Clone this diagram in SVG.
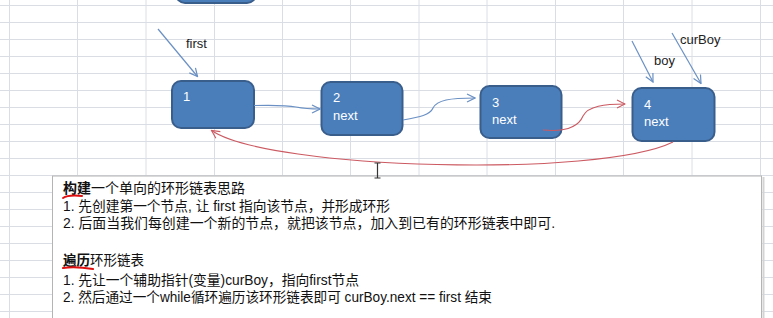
<svg xmlns="http://www.w3.org/2000/svg" width="773" height="318" viewBox="0 0 773 318">
  <defs>
    <style>
      .grid line { stroke: #dadee4; stroke-width: 1; }
      .node rect { fill: #4a7ebb; stroke: #3a5e8c; stroke-width: 2; }
      .node text { fill: #ffffff; font-family: "Liberation Sans", "Open Sans", sans-serif; font-size: 13px; }
      .label { fill: #222222; font-family: "Liberation Sans", "Open Sans", sans-serif; font-size: 13px; }
      .blue { fill: none; stroke: #6a90c4; stroke-width: 1.2; marker-end: url(#headBlue); }
      .red { fill: none; stroke: #cc5a62; stroke-width: 1.1; marker-end: url(#headRed); }
      .note { fill: #111111; font-family: "Liberation Sans", "Noto Sans CJK SC", sans-serif; font-size: 14px; }
      .note .b { font-weight: bold; }
      .mark { fill: none; stroke: #e01010; stroke-width: 2; stroke-linecap: round; }
    </style>
    <marker id="headBlue" viewBox="0 0 10 10" refX="9" refY="5" markerWidth="10" markerHeight="10" markerUnits="userSpaceOnUse" orient="auto">
      <path d="M1,1 L9,5 L1,9" fill="none" stroke="#6a90c4" stroke-width="1.2"/>
    </marker>
    <marker id="headRed" viewBox="0 0 10 10" refX="9" refY="5" markerWidth="10" markerHeight="10" markerUnits="userSpaceOnUse" orient="auto">
      <path d="M1,1 L9,5 L1,9" fill="none" stroke="#cc5a62" stroke-width="1.1"/>
    </marker>
  </defs>

  <rect width="773" height="318" fill="#ffffff"/>

  <!-- spreadsheet grid -->
  <g class="grid">
    <line x1="9.5" y1="0" x2="9.5" y2="318"/>
    <line x1="77.5" y1="0" x2="77.5" y2="318"/>
    <line x1="146" y1="0" x2="146" y2="318"/>
    <line x1="214.5" y1="0" x2="214.5" y2="318"/>
    <line x1="282.5" y1="0" x2="282.5" y2="318"/>
    <line x1="350.5" y1="0" x2="350.5" y2="318"/>
    <line x1="419" y1="0" x2="419" y2="318"/>
    <line x1="487" y1="0" x2="487" y2="318"/>
    <line x1="555.5" y1="0" x2="555.5" y2="318"/>
    <line x1="623.5" y1="0" x2="623.5" y2="318"/>
    <line x1="692" y1="0" x2="692" y2="318"/>
    <line x1="760.5" y1="0" x2="760.5" y2="318"/>
    <line x1="0" y1="5.5" x2="773" y2="5.5"/>
    <line x1="0" y1="22.5" x2="773" y2="22.5"/>
    <line x1="0" y1="39.5" x2="773" y2="39.5"/>
    <line x1="0" y1="56.5" x2="773" y2="56.5"/>
    <line x1="0" y1="73.5" x2="773" y2="73.5"/>
    <line x1="0" y1="90.5" x2="773" y2="90.5"/>
    <line x1="0" y1="107.5" x2="773" y2="107.5"/>
    <line x1="0" y1="124.5" x2="773" y2="124.5"/>
    <line x1="0" y1="141.5" x2="773" y2="141.5"/>
    <line x1="0" y1="158.5" x2="773" y2="158.5"/>
    <line x1="0" y1="175.5" x2="773" y2="175.5"/>
    <line x1="0" y1="192.5" x2="773" y2="192.5"/>
    <line x1="0" y1="209.5" x2="773" y2="209.5"/>
    <line x1="0" y1="226.5" x2="773" y2="226.5"/>
    <line x1="0" y1="243.5" x2="773" y2="243.5"/>
    <line x1="0" y1="260.5" x2="773" y2="260.5"/>
    <line x1="0" y1="277.5" x2="773" y2="277.5"/>
    <line x1="0" y1="294.5" x2="773" y2="294.5"/>
    <line x1="0" y1="311.5" x2="773" y2="311.5"/>
  </g>

  <!-- nodes -->
  <g id="node-top" class="node">
    <rect x="176" y="-50" width="80" height="53" rx="9"/>
  </g>
  <g id="node-1" class="node">
    <rect x="172" y="81" width="82" height="47" rx="9"/>
    <text x="183" y="101">1</text>
  </g>
  <g id="node-2" class="node">
    <rect x="321.5" y="82" width="81" height="53" rx="9"/>
    <text x="333" y="102">2</text>
    <text x="333" y="120">next</text>
  </g>
  <g id="node-3" class="node">
    <rect x="480.5" y="86" width="81" height="52" rx="9"/>
    <text x="492" y="107">3</text>
    <text x="492" y="124">next</text>
  </g>
  <g id="node-4" class="node">
    <rect x="632.5" y="88" width="82" height="53" rx="9"/>
    <text x="644" y="109">4</text>
    <text x="644" y="126">next</text>
  </g>

  <!-- pointer labels -->
  <g id="labels">
    <text class="label" x="186" y="48">first</text>
    <text class="label" x="654" y="65">boy</text>
    <text class="label" x="680" y="44">curBoy</text>
  </g>

  <!-- connectors -->
  <g id="connectors">
    <path class="blue" d="M158,29 L197.5,76.5"/>
    <path class="blue" d="M632,41 L653,82"/>
    <path class="blue" d="M672,33 L701,83.5"/>
    <path class="blue" d="M254,105.5 C275,105 286,105 296,107 C306,109 312,109 320,109"/>
    <path class="blue" d="M403,120 C420,117 430,115 433,108 C437,100 450,98 475,98"/>
    <path class="red" d="M543,130 C565,132 578,128 583,116 C588,106 605,104 625,104"/>
    <path class="red" d="M673,142 C600,178 270,170 211.5,130.5"/>
  </g>

  <!-- notes box -->
  <g id="notes">
    <rect x="52.5" y="176" width="709" height="150" fill="#ffffff" stroke="#b4b4b4" stroke-width="1"/>
    <line x1="763.5" y1="177" x2="763.5" y2="318" stroke="#d4d4d4" stroke-width="2"/>
    <text class="note" x="63" y="192.5" textLength="182" lengthAdjust="spacingAndGlyphs"><tspan class="b">构建</tspan>一个单向的环形链表思路</text>
    <text class="note" x="63" y="210.5" textLength="327" lengthAdjust="spacingAndGlyphs">1. 先创建第一个节点, 让 first 指向该节点，并形成环形</text>
    <text class="note" x="63" y="228" textLength="492" lengthAdjust="spacingAndGlyphs">2. 后面当我们每创建一个新的节点，就把该节点，加入到已有的环形链表中即可.</text>
    <text class="note" x="63" y="264.5" textLength="81" lengthAdjust="spacingAndGlyphs"><tspan class="b">遍历</tspan>环形链表</text>
    <text class="note" x="63" y="285" textLength="296" lengthAdjust="spacingAndGlyphs">1. 先让一个辅助指针(变量)curBoy，指向first节点</text>
    <text class="note" x="63" y="302" textLength="429" lengthAdjust="spacingAndGlyphs">2. 然后通过一个while循环遍历该环形链表即可 curBoy.next == first 结束</text>
    <path class="mark" d="M63,198 C66,196 72,195 82,196"/>
    <path class="mark" d="M63,268 C70,267 80,267 93,269"/>
  </g>

  <!-- text cursor -->
  <path d="M374.5,163 H380.5 M377.5,163 V178 M374.5,178 H380.5" fill="none" stroke="#333333" stroke-width="1.2"/>
</svg>
